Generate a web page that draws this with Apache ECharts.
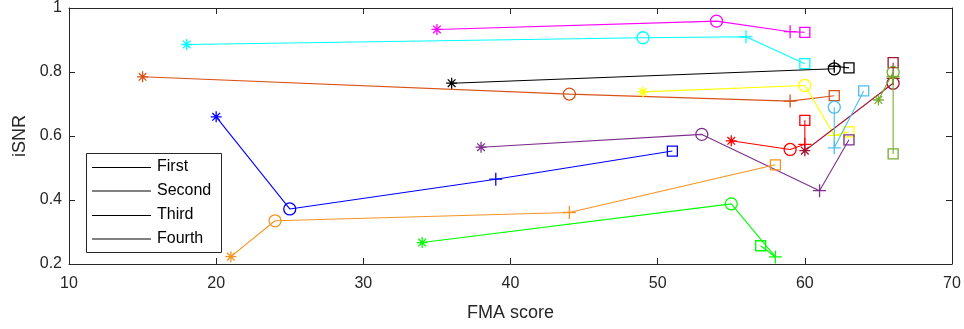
<!DOCTYPE html>
<html>
<head>
<meta charset="utf-8">
<script src="https://cdn.jsdelivr.net/npm/echarts@6/dist/echarts.min.js"></script>
<style>html,body{margin:0;padding:0;background:#fff}#c{width:964px;height:329px}</style>
</head>
<body>
<div id="c"></div>
<script>
// Subject colours
const colors = ['#0000FF','#D95319','#00FFFF','#FF00FF','#000000','#FFFF00','#7E2F8E','#F39422','#00FF00','#FF0000','#A2142F','#4DBEEE','#77AC30'];
// FMA score per session (First, Second, Third, Fourth)
const fmaFirst  = [20, 15, 18, 35, 36, 49, 38, 21, 34, 55, 60, null, 65];
const fmaSecond = [25, 44, 49, 54, 62, 60, 53, 24, 55, 59, 66, 62, 66];
const fmaThird  = [39, 59, 56, 59, 62, 62, 61, 44, 58, 60, 66, 62, 66];
const fmaFourth = [51, 62, 60, 60, 63, 63, 63, 58, 57, 60, 66, 64, 66];
// iSNR per session
const isnrFirst  = [0.660, 0.785, 0.886, 0.933, 0.765, 0.738, 0.565, 0.223, 0.267, 0.585, 0.554, null, 0.7125];
const isnrSecond = [0.372, 0.731, 0.907, 0.959, 0.810, 0.758, 0.605, 0.335, 0.388, 0.558, 0.765, 0.690, 0.799];
const isnrThird  = [0.465, 0.709, 0.910, 0.926, 0.818, 0.602, 0.429, 0.361, 0.222, 0.574, 0.780, 0.563, 0.786];
const isnrFourth = [0.553, 0.726, 0.826, 0.924, 0.813, 0.613, 0.588, 0.510, 0.257, 0.649, 0.829, 0.741, 0.544];
const sessionNames = ['First', 'Second', 'Third', 'Fourth'];
const xTicks = [10, 20, 30, 40, 50, 60, 70];
const yTicks = [0.2, 0.4, 0.6, 0.8, 1];

const asterisk = 'path://M0,5L10,5M5,0L5,10M1.5,1.5L8.5,8.5M1.5,8.5L8.5,1.5';
const plus = 'path://M0,5L10,5M5,0L5,10';
const symbols = [asterisk, 'circle', plus, 'rect'];
const sizes = [11, 12, 13, 10];

const series = colors.map((c, i) => {
  const xs = [fmaFirst[i], fmaSecond[i], fmaThird[i], fmaFourth[i]];
  const ys = [isnrFirst[i], isnrSecond[i], isnrThird[i], isnrFourth[i]];
  const data = [];
  xs.forEach((x, k) => {
    if (x == null || ys[k] == null) return;
    data.push({value: [x, ys[k]], symbol: symbols[k], symbolSize: sizes[k]});
  });
  return {
    type: 'line', data: data, z: 2 + i,
    lineStyle: {color: c, width: 1.1},
    itemStyle: {color: 'rgba(0,0,0,0)', borderColor: c, borderWidth: 1.3},
    showAllSymbol: true, animation: false, silent: true
  };
});

const font = 'Liberation Sans, Arial, Helvetica, sans-serif';
const axisCol = '#262626';
const chart = echarts.init(document.getElementById('c'), null, {renderer: 'canvas'});
const legendTop = 153, legendRowGap = 24;
const legendGraphics = [{
  type: 'rect', shape: {x: 86.5, y: legendTop + 0.5, width: 135, height: 99},
  style: {fill: '#fff', stroke: axisCol, lineWidth: 1}, z: 100
}];
sessionNames.forEach((n, k) => {
  const y = legendTop + 14 + k * legendRowGap;
  const ly = k % 2 ? y : y + 0.5;
  legendGraphics.push({type: 'line', shape: {x1: 92, y1: ly, x2: 151, y2: ly},
    style: {stroke: k % 2 ? '#808080' : '#000', lineWidth: k % 2 ? 2 : 1}, z: 101});
  legendGraphics.push({type: 'text', x: 157, y: y, z: 101,
    style: {text: n, fill: '#000', font: '16px ' + font, textVerticalAlign: 'middle', verticalAlign: 'middle'}});
});

chart.setOption({
  animation: false,
  grid: {left: 69, right: 12, top: 8, bottom: 65, containLabel: false},
  xAxis: [{
    type: 'value', min: xTicks[0], max: xTicks[xTicks.length - 1], interval: 10,
    name: 'FMA score', nameLocation: 'middle', nameGap: 40,
    nameTextStyle: {color: axisCol, fontSize: 18, fontFamily: font},
    axisLine: {lineStyle: {color: axisCol, width: 1}},
    axisTick: {inside: true, length: 6, lineStyle: {color: axisCol}},
    axisLabel: {color: axisCol, fontSize: 16, fontFamily: font, margin: 12},
    splitLine: {show: false}
  }, {
    type: 'value', position: 'top', min: xTicks[0], max: xTicks[xTicks.length - 1], interval: 10,
    axisLine: {show: true, lineStyle: {color: axisCol, width: 1}},
    axisTick: {inside: true, length: 6, lineStyle: {color: axisCol}},
    axisLabel: {show: false}, splitLine: {show: false}
  }],
  yAxis: [{
    type: 'value', min: yTicks[0], max: yTicks[yTicks.length - 1], interval: 0.2,
    name: 'iSNR', nameLocation: 'middle', nameGap: 33, nameRotate: 90,
    nameTextStyle: {color: axisCol, fontSize: 18, fontFamily: font},
    axisLine: {show: true, lineStyle: {color: axisCol, width: 1}},
    axisTick: {inside: true, length: 6, lineStyle: {color: axisCol}},
    axisLabel: {color: axisCol, fontSize: 16, fontFamily: font, margin: 7,
      formatter: v => String(Math.round(v * 10) / 10)},
    splitLine: {show: false}
  }, {
    type: 'value', position: 'right', min: yTicks[0], max: yTicks[yTicks.length - 1], interval: 0.2,
    axisLine: {show: true, lineStyle: {color: axisCol, width: 1}},
    axisTick: {inside: true, length: 6, lineStyle: {color: axisCol}},
    axisLabel: {show: false}, splitLine: {show: false}
  }],
  series: series,
  graphic: legendGraphics
});
</script>
</body>
</html>
